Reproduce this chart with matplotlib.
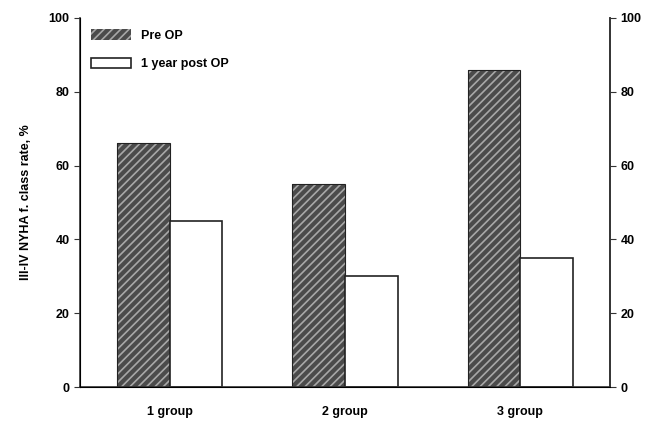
import matplotlib.pyplot as plt
import matplotlib.patches as mpatches
import numpy as np

plt.rcParams['font.family'] = ['Liberation Sans', 'DejaVu Sans']
plt.rcParams['font.weight'] = 'bold'
plt.rcParams['hatch.linewidth'] = 1.2

# data
groups = ['1 group', '2 group', '3 group']
pre_op = [66, 55, 86]
post_op = [45, 30, 35]
yticks = [0, 20, 40, 60, 80, 100]

fig = plt.figure(figsize=(6.51, 4.23), dpi=100)
ax = fig.add_axes([0.1229, 0.0851, 0.8141, 0.8724])

x = np.arange(len(groups))
w = 0.3

# hatched pre OP bars: fill+hatch first, then a black outline
ax.bar(x - w / 2, pre_op, w, color='#4b4b4b', edgecolor='#a8a8a8', hatch='////', linewidth=0)
ax.bar(x - w / 2, pre_op, w, fill=False, edgecolor='#222222', linewidth=0.8)
ax.bar(x + w / 2, post_op, w, color='white', edgecolor='#222222', linewidth=1.2)

ax.set_xlim(-0.514, 2.514)
ax.set_ylim(0, 100)
ax.set_xticks(x)
ax.set_xticklabels(groups, fontsize=9, fontweight='bold')
ax.tick_params(axis='x', length=0, pad=14)
ax.set_yticks(yticks)
ax.tick_params(axis='y', labelsize=9, length=4, direction='out', color='#333333')
ax.set_ylabel('III-IV NYHA f. class rate, %', fontsize=9, fontweight='bold', labelpad=12)

ax.spines['top'].set_visible(False)
for s in ['left', 'right', 'bottom']:
    ax.spines[s].set_color('#333333')
    ax.spines[s].set_linewidth(1.2)

ax2 = ax.twinx()
ax2.set_ylim(0, 100)
ax2.set_yticks(yticks)
ax2.tick_params(axis='y', labelsize=9, length=4, direction='out', color='#333333')
ax2.spines['top'].set_visible(False)
ax2.spines['right'].set_color('#333333')
ax2.spines['right'].set_linewidth(1.2)

h1 = mpatches.Patch(facecolor='#4b4b4b', edgecolor='#a8a8a8', hatch='////', linewidth=0)
h2 = mpatches.Patch(facecolor='white', edgecolor='#222222', linewidth=1.2)
ax.legend([h1, h2], ['Pre OP', '1 year post OP'], loc='upper left', frameon=False,
          fontsize=9, handlelength=3.2, handleheight=0.9, labelspacing=1.3,
          bbox_to_anchor=(0.0, 1.0))

fig.savefig('out.png', dpi=100)
